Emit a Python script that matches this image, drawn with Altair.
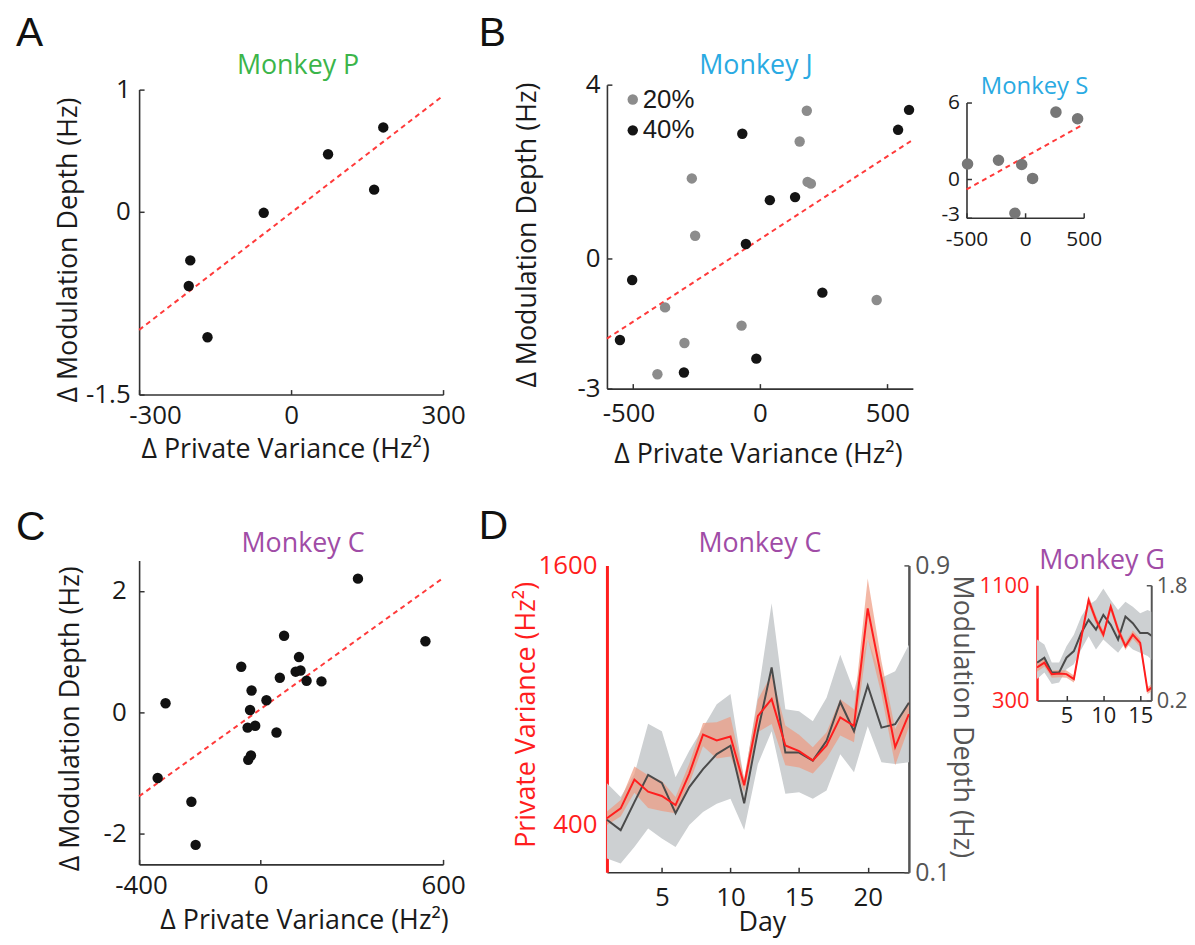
import altair as alt
import pandas as pd

FONT = "Open Sans"
LETTER_FONT = "Liberation Sans"
INK = "#1a1a1a"
AXIS_C = "#333333"
RED = "#ff1e1e"
FIT_RED = "#ff3a3a"
GREEN = "#3bb54a"
BLUE = "#2aaae2"
PURPLE = "#a04ca6"
GRAY_TXT = "#555555"

# ---------------- data ----------------
# Panel A - Monkey P
a_pv = [182, 73, 164, -54, -199, -202, -165]
a_md = [0.69, 0.47, 0.18, -0.01, -0.40, -0.61, -1.03]
a_fit_pv = [-300, 300]
a_fit_md = [-0.97, 0.95]

# Panel B - Monkey J
b20_pv = [184, 156, -267, 187, 200, -254, -372, 458, -72, -296, -402]
b20_md = [3.40, 2.69, 1.84, 1.76, 1.72, 0.52, -1.13, -0.96, -1.55, -1.95, -2.67]
b40_pv = [585, 542, -69, 39, 138, -55, -501, 245, -549, -14, -298]
b40_md = [3.42, 2.96, 2.87, 1.34, 1.41, 0.33, -0.50, -0.79, -1.88, -2.31, -2.63]
b_fit_pv = [-600, 600]
b_fit_md = [-1.85, 2.73]
b_groups = ["20%", "40%"]

# Inset - Monkey S
s_pv = [-491, -227, -29, 64, -87, 263, 448]
s_md = [1.20, 1.49, 1.16, 0.07, -2.65, 5.25, 4.73]
s_fit_pv = [-500, 480]
s_fit_md = [-0.79, 4.20]

# Panel C - Monkey C
c_pv = [320, 542, 77, 126, -64, 115, 131, 63, 151, 200, -30, 19, -313, -35,
        -43, -18, 52, -32, -41, -339, -228, -214]
c_md = [2.20, 1.17, 1.26, 0.91, 0.75, 0.67, 0.69, 0.57, 0.52, 0.51, 0.36, 0.20,
        0.15, 0.04, -0.25, -0.22, -0.33, -0.71, -0.78, -1.08, -1.47, -2.18]
c_fit_pv = [-400, 600]
c_fit_md = [-1.38, 2.21]

# Panel D - Monkey C over days
d_day = [1, 2, 3, 4, 5, 6, 7, 8, 9, 10, 11, 12, 13, 14, 15, 16, 17, 18, 19, 20, 21, 22, 23]
d_pv = [430, 476, 609, 553, 533, 491, 637, 817, 790, 808, 583, 904, 981, 767, 741,
        698, 767, 897, 858, 1401, 1080, 759, 912]
d_pv_hi = [461, 514, 670, 629, 602, 529, 683, 871, 874, 900, 614, 980, 1096, 859, 817,
           759, 828, 981, 934, 1539, 1156, 843, 973]
d_pv_lo = [399, 438, 548, 477, 464, 453, 591, 763, 706, 716, 552, 828, 866, 675, 665,
           637, 706, 813, 782, 1263, 1004, 675, 851]
d_md = [0.237, 0.210, 0.283, 0.354, 0.333, 0.254, 0.322, 0.369, 0.408, 0.430, 0.280, 0.468,
        0.634, 0.412, 0.412, 0.391, 0.443, 0.544, 0.468, 0.587, 0.477, 0.486, 0.542]
d_md_hi = [0.332, 0.296, 0.356, 0.487, 0.468, 0.348, 0.417, 0.477, 0.538, 0.565, 0.339, 0.563,
           0.801, 0.525, 0.520, 0.494, 0.555, 0.667, 0.572, 0.710, 0.607, 0.624, 0.693]
d_md_lo = [0.136, 0.123, 0.166, 0.214, 0.188, 0.166, 0.223, 0.257, 0.279, 0.292, 0.210, 0.382,
           0.468, 0.305, 0.309, 0.292, 0.313, 0.408, 0.361, 0.481, 0.387, 0.382, 0.387]

# Inset - Monkey G over days
g_day = [1, 2, 3, 4, 5, 6, 7, 8, 9, 10, 11, 12, 13, 14, 15, 16, 17]
g_pv = [529, 563, 483, 487, 483, 449, 734, 997, 860, 757, 951, 791, 677, 757, 700, 369, 404]
g_pv_hi = [558, 591, 508, 512, 508, 474, 763, 1029, 890, 786, 980, 820, 704, 786, 728, 393, 428]
g_pv_lo = [500, 535, 458, 462, 458, 424, 705, 965, 830, 728, 922, 762, 650, 728, 672, 345, 380]
g_md = [0.726, 0.794, 0.589, 0.589, 0.794, 0.886, 1.137, 1.320, 1.183, 1.389, 1.251, 1.046,
        1.366, 1.274, 1.137, 1.137, 1.068]
g_md_hi = [1.046, 0.977, 0.726, 0.726, 0.954, 1.114, 1.366, 1.526, 1.594, 1.754, 1.594, 1.457,
           1.571, 1.503, 1.411, 1.457, 1.411]
g_md_lo = [0.497, 0.589, 0.429, 0.451, 0.634, 0.703, 0.909, 1.091, 0.909, 1.046, 0.954, 0.863,
           1.000, 0.909, 0.863, 0.817, 0.726]

LBL = "toString(datum.value)"
PV_T = "Δ Private Variance (Hz²)"
MD_T = "Δ Modulation Depth (Hz)"
TICK_IN = 5  # inward tick length (drawn toward the plot)


def tick_kw(on, color=AXIS_C):
    if not on:
        return dict(ticks=False, tickSize=0)
    return dict(ticks=True, tickSize={"expr": str(-TICK_IN)}, tickColor=color, tickWidth=1.5)


def xaxis(values, pad, size=26, title=None, tx=0, ty=0, neg_offset=0, ticks=True):
    kw = dict(values=values, labelExpr=LBL, labelFlush=False,
              labelPadding=pad + (TICK_IN if ticks else 0), labelFontSize=size)
    kw.update(tick_kw(ticks))
    if neg_offset:
        kw["labelOffset"] = {"condition": {"test": "datum.value < 0", "value": neg_offset}, "value": 0}
    if title:
        kw.update(title=title, titleX=tx, titleY=ty, titleAlign="center", titleBaseline="alphabetic")
    else:
        kw["title"] = None
    return alt.Axis(**kw)


def yaxis(values, pad, size=26, title=None, tx=0, ty=0, orient="left", ticks=True,
          tick_color=AXIS_C, **extra):
    kw = dict(values=values, labelExpr=LBL, labelFlush=False,
              labelPadding=pad + (TICK_IN if ticks else 0), labelFontSize=size, orient=orient)
    kw.update(tick_kw(ticks, tick_color))
    if title:
        kw.update(title=title, titleX=tx, titleY=ty, titleAlign="center", titleBaseline="alphabetic",
                  titleAngle=270 if orient == "left" else 90)
    else:
        kw["title"] = None
    kw.update(extra)
    return alt.Axis(**kw)


def mtitle(text, color, dx, offset, size=27):
    return alt.TitleParams(text, color=color, fontSize=size, anchor="middle", frame="group",
                           dx=dx, offset=offset, baseline="alphabetic", fontWeight="normal", font=FONT)


def scatter_panel(pts, fit, xs, ys, ax, ay, w, h, title, dot_color, dot_size, color_enc=None):
    fit_l = alt.Chart(fit).mark_line(color=FIT_RED, strokeDash=[5, 4], strokeWidth=2).encode(
        x=alt.X("pv:Q", scale=xs, axis=ax), y=alt.Y("md:Q", scale=ys, axis=ay))
    enc = dict(x=alt.X("pv:Q", scale=xs, axis=ax), y=alt.Y("md:Q", scale=ys, axis=ay))
    if color_enc is not None:
        enc["color"] = color_enc
        dots = alt.Chart(pts).mark_circle(size=dot_size, opacity=1).encode(**enc)
    else:
        dots = alt.Chart(pts).mark_circle(size=dot_size, opacity=1, color=dot_color).encode(**enc)
    return alt.layer(fit_l, dots).properties(width=w, height=h, title=title)


# ---------------- Panel A ----------------
A = scatter_panel(
    pd.DataFrame({"pv": a_pv, "md": a_md}), pd.DataFrame({"pv": a_fit_pv, "md": a_fit_md}),
    alt.Scale(domain=[-300, 300], nice=False, zero=False),
    alt.Scale(domain=[-1.5, 1], range=[312, 5], nice=False, zero=False),
    xaxis([-300, 0, 300], 8, title=PV_T, tx=147, ty=63, neg_offset=16),
    yaxis([-1.5, 0, 1], 9, title=MD_T, tx=-63, ty=166),
    306, 312, mtitle("Monkey P", GREEN, 7, -24), "#111111", 110)

# ---------------- Panel B ----------------
dfB = pd.DataFrame({"pv": b20_pv + b40_pv, "md": b20_md + b40_md,
                    "grp": [b_groups[0]] * len(b20_pv) + [b_groups[1]] * len(b40_pv)})
colB = alt.Color("grp:N", scale=alt.Scale(domain=b_groups, range=["#8c8c8c", "#141414"]),
                 legend=alt.Legend(title=None, orient="none", legendX=13, legendY=2, symbolType="circle",
                                   symbolSize=110, symbolStrokeWidth=0, symbolOpacity=1, labelFontSize=26,
                                   labelFont=LETTER_FONT, labelColor=INK, padding=0, rowPadding=5,
                                   labelOffset={"expr": "-3"}))
B = scatter_panel(
    dfB, pd.DataFrame({"pv": b_fit_pv, "md": b_fit_md}),
    alt.Scale(domain=[-600, 600], nice=False, zero=False),
    alt.Scale(domain=[-3, 4], nice=False, zero=False),
    xaxis([-500, 0, 500], 12, title=PV_T, tx=152, ty=74, neg_offset=-4),
    yaxis([-3, 0, 4], 7, title=MD_T, tx=-72, ty=151),
    308, 306, mtitle("Monkey J", BLUE, -4, -29), None, 110, color_enc=colB)

# ---------------- Inset S (layout width 71, drawn over 118 px) ----------------
S = scatter_panel(
    pd.DataFrame({"pv": s_pv, "md": s_md}), pd.DataFrame({"pv": s_fit_pv, "md": s_fit_md}),
    alt.Scale(domain=[-500, 500], range=[0, 118], nice=False, zero=False),
    alt.Scale(domain=[-3, 6], range=[134, 18], nice=False, zero=False),
    xaxis([-500, 0, 500], 11, size=21),
    yaxis([-3, 0, 6], 7, size=21, labelOffset={"condition": {"test": "datum.value < 0", "value": -3},
                                               "value": 0}),
    71, 134, mtitle("Monkey S", BLUE, 33, -33, size=24), "#777777", 135)

# ---------------- Panel C ----------------
C = scatter_panel(
    pd.DataFrame({"pv": c_pv, "md": c_md}), pd.DataFrame({"pv": c_fit_pv, "md": c_fit_md}),
    alt.Scale(domain=[-400, 600], nice=False, zero=False),
    alt.Scale(domain=[-2.5, 2.5], nice=False, zero=False),
    xaxis([-400, 0, 600], 8, title=PV_T, tx=166, ty=65, neg_offset=2),
    yaxis([-2, 0, 2], 13, title=MD_T, tx=-61, ty=159),
    306, 306, mtitle("Monkey C", PURPLE, 12, -19), "#111111", 110)


# ---------------- Panels D and G (two y scales) ----------------
def dual_panel(df, xdom, ldom, rdom, yr, ax, al, ar, w, h, title, clip=False):
    xs = alt.Scale(domain=xdom, nice=False, zero=False)
    ysl = alt.Scale(domain=ldom, range=yr, nice=False, zero=False)
    ysr = alt.Scale(domain=rdom, range=yr, nice=False, zero=False)
    xx = alt.X("day:Q", scale=xs, axis=ax)
    gband = alt.Chart(df).mark_area(color="#cdd0d2", opacity=1, clip=clip).encode(
        x=xx, y=alt.Y("md_lo:Q", scale=ysr, axis=ar), y2="md_hi:Q")
    rband = alt.Chart(df).mark_area(color="#ee9a80", opacity=0.7, clip=clip).encode(
        x=xx, y=alt.Y("pv_lo:Q", scale=ysl, axis=al), y2="pv_hi:Q")
    gline = alt.Chart(df).mark_line(color="#4a4a4a", strokeWidth=2, clip=clip).encode(
        x=xx, y=alt.Y("md:Q", scale=ysr, axis=None))
    rline = alt.Chart(df).mark_line(color=RED, strokeWidth=2, clip=clip).encode(
        x=xx, y=alt.Y("pv:Q", scale=ysl, axis=None))
    return alt.layer(gband, rband, gline, rline).resolve_scale(y="independent").properties(
        width=w, height=h, title=title)


dfD = pd.DataFrame({"day": d_day, "pv": d_pv, "pv_lo": d_pv_lo, "pv_hi": d_pv_hi,
                    "md": d_md, "md_lo": d_md_lo, "md_hi": d_md_hi})
D = dual_panel(
    dfD, [1, 23], [180, 1600], [0.1, 0.9], [314, 5],
    xaxis([5, 10, 15, 20], 12, title="Day", tx=156, ty=59),
    yaxis([400, 1600], 10, title="Private Variance (Hz²)", tx=-73, ty=155, ticks=False,
          labelColor=RED, domainColor=RED, domainWidth=3, titleColor=RED),
    yaxis([0.1, 0.9], 6, size=25, title="Modulation Depth (Hz)", tx=45, ty=157, orient="right",
          tick_color=GRAY_TXT, labelColor=GRAY_TXT, domainColor=GRAY_TXT, domainWidth=2.5,
          titleColor=GRAY_TXT),
    304, 314, mtitle("Monkey C", PURPLE, 2, -27))

dfG = pd.DataFrame({"day": g_day, "pv": g_pv, "pv_lo": g_pv_lo, "pv_hi": g_pv_hi,
                    "md": g_md, "md_lo": g_md_lo, "md_hi": g_md_hi})
G = dual_panel(
    dfG, [1, 16.5], [300, 1100], [0.2, 1.8], [141, 25],
    xaxis([5, 10, 15], 5, size=22),
    yaxis([300, 1100], 8, size=22, ticks=False, labelColor=RED, domainColor=RED, domainWidth=2.5),
    yaxis([0.2, 1.8], 5, size=22, orient="right", tick_color=GRAY_TXT, labelColor=GRAY_TXT,
          domainColor=GRAY_TXT, domainWidth=2),
    115, 141, mtitle("Monkey G", PURPLE, 8, -36), clip=True)


# ---------------- spacers carrying the panel letters ----------------
def spacer(w, letter=None, lx=0, ly=0):
    if letter:
        return alt.Chart(pd.DataFrame({"t": [letter]})).mark_text(
            fontSize=41, font=LETTER_FONT, align="left", baseline="alphabetic", color="#111111").encode(
            text="t:N", x=alt.value(lx), y=alt.value(ly)).properties(width=w, height=10)
    return alt.Chart(pd.DataFrame({"t": [""]})).mark_point(opacity=0, size=1).encode(
        x=alt.value(0), y=alt.value(0)).properties(width=w, height=10)


chart = alt.concat(
    spacer(124, "A", 0, -39), A, spacer(165, "B", 36, -39), B, spacer(54), S, spacer(10),
    spacer(124, "C", 0, -21), C, spacer(165, "D", 36, -22), D, spacer(54), spacer(71), G,
    columns=7, spacing={"row": 167, "column": 0}, align="each", bounds="flush"
).resolve_scale(color="independent").resolve_legend(color="independent").properties(
    padding={"left": 8, "top": 2, "right": 0, "bottom": 5}
).configure_axis(
    labelFont=FONT, titleFont=FONT, titleFontSize=27, titleFontWeight="normal",
    labelColor=INK, titleColor=INK, domainColor=AXIS_C, domainWidth=1.6, grid=False
).configure_view(stroke=None).configure_title(font=FONT, fontWeight="normal")

chart.save("out.html", embed_options={"renderer": "svg", "actions": False})
